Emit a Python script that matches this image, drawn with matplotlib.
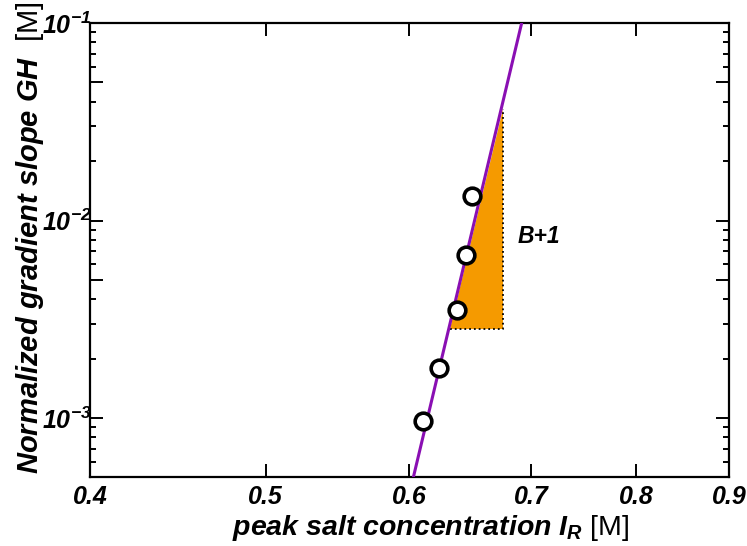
import matplotlib
matplotlib.use('Agg')
import matplotlib.pyplot as plt
from matplotlib.patches import Polygon
from matplotlib.ticker import FixedLocator, FuncFormatter, LogLocator, NullLocator

plt.rcParams['font.family'] = ['Liberation Sans', 'DejaVu Sans']
plt.rcParams['mathtext.fontset'] = 'custom'
plt.rcParams['mathtext.rm'] = 'Liberation Sans:italic:bold'
plt.rcParams['mathtext.it'] = 'Liberation Sans:italic:bold'
plt.rcParams['mathtext.bf'] = 'Liberation Sans:italic:bold'
plt.rcParams['mathtext.sf'] = 'Liberation Sans'

# measured points: peak salt concentration vs normalized gradient slope
peak_I = [0.6104, 0.6229, 0.6372, 0.6446, 0.6495]
gh = [9.66e-4, 1.79e-3, 3.54e-3, 6.67e-3, 1.325e-2]

fit_I = [0.6029, 0.6918]
fit_gh = [5.0e-4, 1.0e-1]

# slope triangle
tri_I = [0.6316, 0.6752, 0.6752]
tri_gh = [2.81e-3, 2.81e-3, 3.65e-2]

x_ticks = [0.4, 0.5, 0.6, 0.7, 0.8, 0.9]
x_labels = ['0.4', '0.5', '0.6', '0.7', '0.8', '0.9']
y_major = [5e-4, 1e-3, 5e-3, 1e-2, 5e-2, 1e-1]
y_labelled = {1e-3: -3, 1e-2: -2, 1e-1: -1}

PURPLE = '#8a0fb3'
ORANGE = '#f59a00'

fig = plt.figure(figsize=(7.47, 5.46), dpi=100, facecolor='white')
ax = fig.add_axes([90 / 747, 1 - 477 / 546, 639 / 747, 454 / 546])
ax.set_xscale('log')
ax.set_yscale('log')
ax.set_xlim(0.4, 0.9)
ax.set_ylim(5.03e-4, 1e-1)

# triangle
tri = Polygon(list(zip(tri_I, tri_gh)), closed=True, facecolor=ORANGE,
              edgecolor='none', zorder=1)
ax.add_patch(tri)
ax.plot(tri_I, tri_gh, ':', color='black', lw=1.3, zorder=2)

ax.plot(fit_I, fit_gh, '-', color=PURPLE, lw=2.2, zorder=3)
ax.plot(peak_I, gh, 'o', ms=12, mfc='white', mec='black', mew=2.6, zorder=4)

ax.text(0.6885, 8.31e-3, 'B+1', fontsize=16.5, fontweight='bold', style='italic',
        va='center', ha='left')

# axes / ticks
ax.xaxis.set_major_locator(FixedLocator(x_ticks))
ax.xaxis.set_major_formatter(FuncFormatter(lambda v, p: x_labels[x_ticks.index(round(v, 1))]
                                           if round(v, 1) in x_ticks else ''))
ax.xaxis.set_minor_locator(NullLocator())
ax.yaxis.set_major_locator(FixedLocator(y_major))


def ylab(v, p):
    for k, e in y_labelled.items():
        if abs(v / k - 1) < 1e-6:
            return r'$10^{%d}$' % e
    return ''


ax.yaxis.set_major_formatter(FuncFormatter(ylab))
ax.yaxis.set_minor_locator(LogLocator(base=10, subs=[2, 3, 4, 6, 7, 8, 9]))

ax.tick_params(which='both', direction='in', top=True, right=True, width=1.4)
ax.tick_params(which='major', length=9.5)
ax.tick_params(axis='x', which='major', pad=6)
ax.tick_params(axis='y', which='major', pad=-1)
ax.tick_params(which='minor', length=4.5)
for lab in ax.get_xticklabels() + ax.get_yticklabels():
    lab.set_fontsize(18)
    lab.set_fontweight('bold')
    lab.set_style('italic')
for s in ax.spines.values():
    s.set_linewidth(1.6)

fig.text(431 / 747, 1 - 528 / 546, r'peak salt concentration $I_R$ $\mathsf{[M]}$',
         fontsize=20.5, fontweight='bold', style='italic', ha='center', va='center')
fig.text(30 / 747, 1 - 238 / 546, r'Normalized gradient slope GH  $\mathsf{[M]}$',
         fontsize=21, fontweight='bold', style='italic', ha='center', va='center',
         rotation=90)

fig.savefig('out.png', dpi=100, facecolor='white')
